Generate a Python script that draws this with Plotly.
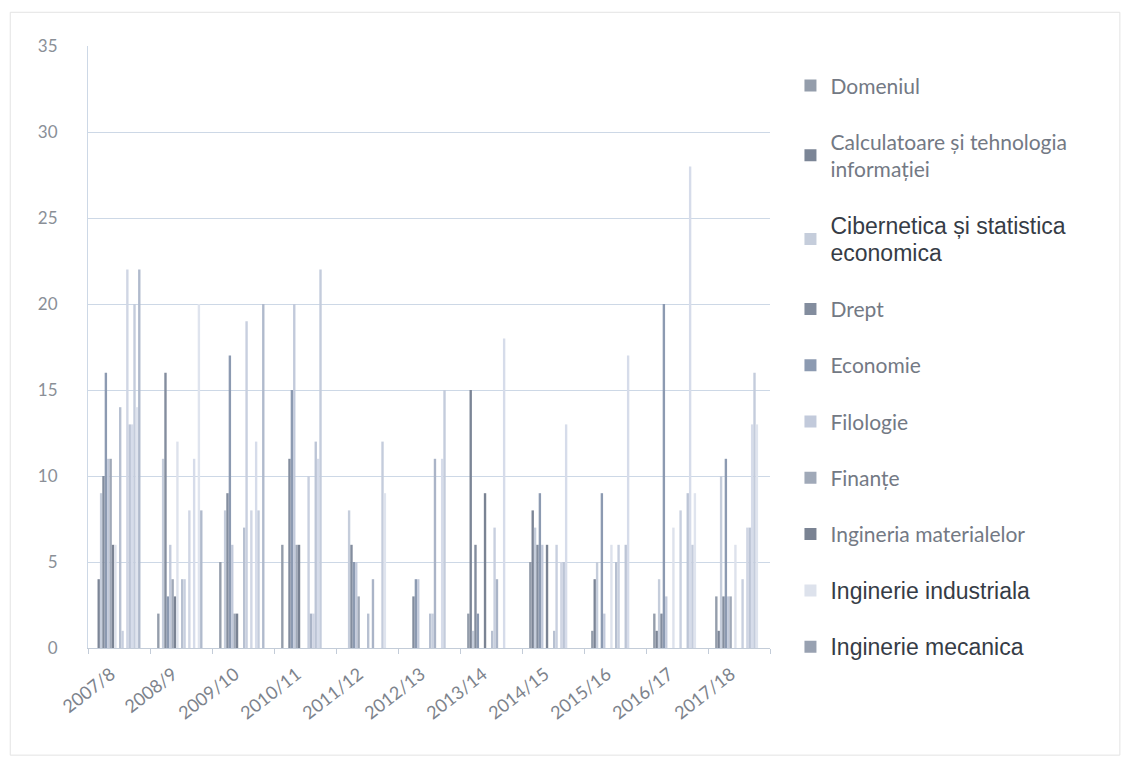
import plotly.graph_objects as go

# categorii (ani universitari)
years = ["2007/8", "2008/9", "2009/10", "2010/11", "2011/12", "2012/13",
         "2013/14", "2014/15", "2015/16", "2016/17", "2017/18"]

# domenii - doar primele 10 apar in legenda (legenda trunchiata in original)
domains = [
    "Domeniul",
    "Calculatoare și tehnologia<br>informației",
    "Cibernetica și statistica<br>economica",
    "Drept",
    "Economie",
    "Filologie",
    "Finanțe",
    "Ingineria materialelor",
    "Inginerie industriala",
    "Inginerie mecanica",
    "Inginerie și management",
    "Informatica",
    "Jurnalism",
    "Management",
    "Marketing",
    "Matematica",
    "Medicina",
    "Pedagogie",
    "Psihologie",
    "Relații internaționale",
]

# valori citite pe fiecare an (cate una pentru fiecare domeniu)
v_2007_8 = [0, 4, 9, 10, 16, 11, 11, 6, 6, 0, 14, 1, 0, 22, 13, 13, 20, 14, 22, 0]
v_2008_9 = [2, 0, 11, 16, 3, 6, 4, 3, 12, 0, 4, 4, 0, 8, 0, 11, 0, 20, 8, 0]
v_2009_10 = [5, 0, 8, 9, 17, 6, 2, 2, 0, 0, 7, 19, 0, 8, 0, 12, 8, 0, 20, 0]
v_2010_11 = [6, 0, 0, 11, 15, 20, 6, 6, 0, 0, 0, 10, 2, 2, 12, 11, 22, 0, 0, 0]
v_2011_12 = [0, 0, 8, 6, 5, 5, 3, 0, 0, 0, 2, 0, 4, 0, 0, 0, 12, 9, 0, 0]
v_2012_13 = [0, 0, 0, 3, 4, 4, 0, 0, 0, 0, 2, 2, 11, 0, 0, 11, 15, 0, 0, 0]
v_2013_14 = [2, 15, 1, 6, 2, 0, 0, 9, 0, 0, 1, 7, 4, 0, 0, 18, 0, 0, 0, 0]
v_2014_15 = [5, 8, 7, 6, 9, 6, 0, 6, 0, 0, 1, 6, 0, 5, 5, 13, 0, 0, 0, 0]
v_2015_16 = [1, 4, 5, 0, 9, 2, 0, 0, 6, 0, 5, 6, 0, 0, 6, 17, 0, 0, 0, 0]
v_2016_17 = [2, 1, 4, 2, 20, 3, 0, 0, 7, 0, 0, 8, 0, 0, 9, 28, 6, 9, 0, 0]
v_2017_18 = [3, 1, 10, 3, 11, 3, 3, 0, 6, 0, 0, 4, 0, 7, 7, 13, 16, 13, 0, 0]

rows = [v_2007_8, v_2008_9, v_2009_10, v_2010_11, v_2011_12, v_2012_13,
        v_2013_14, v_2014_15, v_2015_16, v_2016_17, v_2017_18]

colors = ["#949dab", "#7b8596", "#c5cddb", "#838d9e", "#8c9ab1",
          "#c2cadb", "#a0a9b8", "#7a8393", "#dde2ec", "#98a1b1",
          "#b7c0d1", "#c8cfdf", "#aab4c7", "#d0d6e4", "#bcc5d6",
          "#d6dcea", "#c4ccdc", "#dfe4ee", "#b0bacc", "#cdd4e2"]

# unele intrari din legenda apar cu alt font in original
arial_items = {2, 8, 9}

fig = go.Figure()
for i, name in enumerate(domains):
    label = name
    if i in arial_items:
        label = ("<span style='font-family:Liberation Sans, Arial;"
                 "color:#363c46;font-size:23px'>" + name + "</span>")
    fig.add_trace(go.Bar(
        x=years,
        y=[r[i] for r in rows],
        name=label,
        legendgroup="g%d" % i,
        showlegend=i < 10,
        marker=dict(color=colors[i], line=dict(width=0)),
    ))

fig.update_layout(
    width=1129,
    height=765,
    barmode="group",
    bargap=0.23,
    bargroupgap=0,
    plot_bgcolor="white",
    paper_bgcolor="white",
    font=dict(family="Lato, Open Sans, sans-serif", color="#7a808a"),
    margin=dict(l=80, r=367, t=38, b=125),
    legend=dict(
        x=1.03, y=0.968, xanchor="left", yanchor="top",
        font=dict(size=21, color="#737984"),
        tracegroupgap=26,
        itemwidth=30,
        maxheight=740,
        bgcolor="rgba(0,0,0,0)",
    ),
    shapes=[dict(
        type="rect", xref="paper", yref="paper",
        x0=-0.114, x1=1.513, y0=-0.178, y1=1.056,
        line=dict(color="#e3e3e3", width=1),
    )],
)

fig.update_yaxes(
    range=[0, 35], dtick=5,
    showgrid=True, gridcolor="#cdd8e6", gridwidth=1,
    showline=True, linecolor="#cdd8e6",
    tickfont=dict(size=17, color="#8a8f97"),
    ticklabelstandoff=26,
    ticks="", zeroline=False,
)
fig.update_xaxes(
    tickangle=-38,
    tickfont=dict(size=18, color="#7d838c"),
    ticklabelshift=-8,
    ticklabelstandoff=8,
    showline=True, linecolor="#c3ccd8",
    ticks="outside", tickson="boundaries", ticklen=5, tickcolor="#c3ccd8",
    showgrid=False,
)

fig.write_html("out.html")
